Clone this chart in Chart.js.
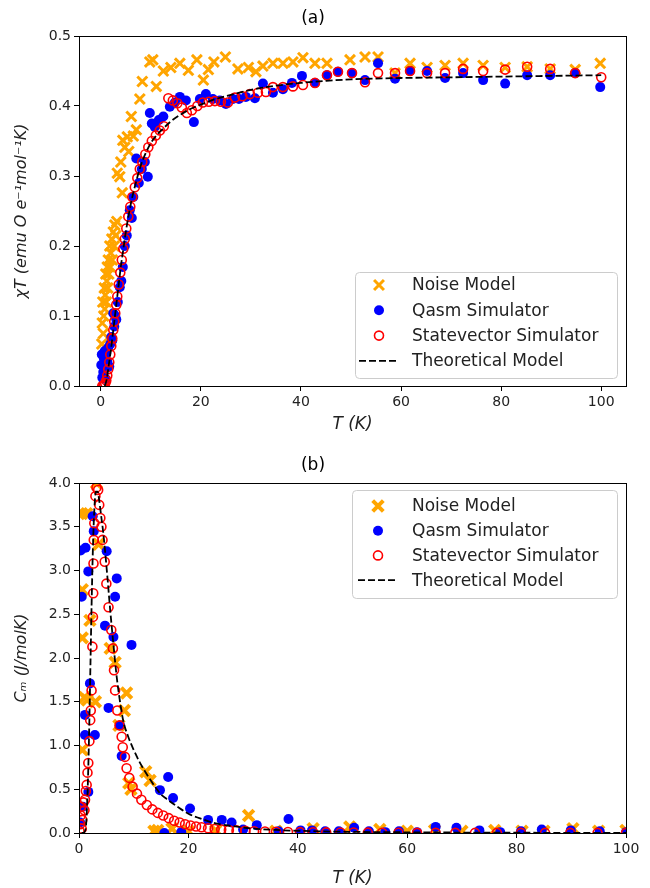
<!DOCTYPE html>
<html>
<head>
<meta charset="utf-8">
<script src="https://cdn.jsdelivr.net/npm/chart.js@4"></script>
<style>
  html, body { margin: 0; padding: 0; background: #fff; }
  canvas { display: block; }
</style>
</head>
<body>
<canvas id="chartA" width="650" height="444"></canvas>
<canvas id="chartB" width="650" height="444"></canvas>
<script>
// tick labels
const xTicks = [0, 20, 40, 60, 80, 100];
const chiTicks = [0, 0.1, 0.2, 0.3, 0.4, 0.5];
const cmTicks = [0, 0.5, 1, 1.5, 2, 2.5, 3, 3.5, 4];
const seriesNames = ['Noise Model', 'Qasm Simulator', 'Statevector Simulator', 'Theoretical Model'];

// (a) chi*T vs T  -> [T, chiT]
const noiseChi = [[0.2,0.06],[0.3,0.09],[0.4,0.12],[0.5,0.075],[0.6,0.1],[0.7,0.14],[0.8,0.11],[0.9,0.13],[1.0,0.16],[1.1,0.12],[1.2,0.15],[1.3,0.17],[1.4,0.14],[1.5,0.18],[1.6,0.16],[1.8,0.2],[1.9,0.17],[2.0,0.19],[2.2,0.21],[2.3,0.18],[2.5,0.22],[2.7,0.2],[2.8,0.23],[3.0,0.215],[3.2,0.235],[3.3,0.304],[3.8,0.299],[4.0,0.32],[4.3,0.276],[4.4,0.351],[4.8,0.341],[5.3,0.356],[5.6,0.335],[6.1,0.385],[6.5,0.357],[7.1,0.366],[7.8,0.41],[8.3,0.435],[9.8,0.463],[10.4,0.466],[11.1,0.428],[12.5,0.45],[14,0.455],[15.8,0.461],[17.5,0.451],[19.2,0.466],[20.5,0.437],[21.5,0.452],[22.6,0.463],[24.9,0.47],[27.4,0.453],[29.5,0.455],[31,0.449],[32.4,0.457],[34.4,0.461],[36.4,0.461],[38.4,0.463],[40.4,0.469],[42.8,0.461],[45.2,0.461],[49.8,0.466],[52.8,0.47],[55.4,0.47],[58.8,0.447],[61.8,0.461],[65.2,0.455],[68.8,0.458],[72.4,0.461],[76.4,0.458],[80.8,0.455],[85.2,0.456],[89.8,0.453],[94.8,0.452],[99.8,0.461]];
const qasmChi = [[0.1,0.03],[0.2,0.045],[0.3,0.012],[0.5,0.02],[0.6,0.04],[0.8,0.05],[1.0,0.01],[1.1,0.047],[1.3,0.035],[1.5,0.055],[1.7,0.028],[1.9,0.06],[2.1,0.07],[2.3,0.065],[2.5,0.104],[2.7,0.085],[2.9,0.1],[3.1,0.095],[3.4,0.12],[3.8,0.141],[4.1,0.15],[4.4,0.17],[4.8,0.2],[5.2,0.215],[5.8,0.251],[6.2,0.24],[6.5,0.27],[7.1,0.325],[7.6,0.29],[8.2,0.31],[8.8,0.32],[9.4,0.299],[9.8,0.39],[10.2,0.375],[10.8,0.37],[11.6,0.38],[12.5,0.385],[13.8,0.399],[14.8,0.405],[15.8,0.413],[17,0.408],[18.6,0.377],[19.8,0.41],[21,0.417],[22.4,0.41],[23.8,0.408],[25,0.403],[26.4,0.41],[27.6,0.41],[29,0.413],[30.8,0.411],[32.4,0.432],[34.4,0.419],[36.4,0.424],[38.2,0.433],[40.2,0.443],[42.8,0.433],[45.2,0.444],[47.4,0.449],[50.2,0.447],[52.8,0.437],[55.4,0.461],[58.8,0.439],[61.8,0.45],[65.2,0.45],[68.8,0.44],[72.4,0.447],[76.4,0.437],[80.8,0.432],[85.2,0.444],[89.8,0.444],[94.8,0.447],[99.8,0.427]];
const stateChi = [[0.3,0],[0.5,0],[0.7,0.002],[0.9,0.004],[1.1,0.008],[1.3,0.015],[1.5,0.024],[1.7,0.034],[1.9,0.045],[2.1,0.057],[2.3,0.068],[2.5,0.08],[2.7,0.092],[2.9,0.104],[3.1,0.116],[3.3,0.128],[3.6,0.145],[3.9,0.162],[4.2,0.18],[4.5,0.196],[4.8,0.21],[5.1,0.225],[5.5,0.242],[5.9,0.256],[6.3,0.27],[6.8,0.284],[7.3,0.297],[7.8,0.31],[8.3,0.32],[8.9,0.331],[9.5,0.341],[10.2,0.35],[11,0.358],[11.8,0.365],[12.6,0.371],[13.5,0.411],[14.4,0.408],[15.3,0.404],[16.2,0.398],[17.2,0.39],[18.2,0.394],[19.3,0.4],[20.4,0.405],[21.6,0.406],[22.8,0.407],[24,0.406],[25.4,0.405],[26.8,0.412],[28.3,0.414],[29.8,0.417],[31.4,0.419],[33,0.42],[34.4,0.427],[36.4,0.427],[38.4,0.428],[40.4,0.43],[42.8,0.433],[45.2,0.444],[47.4,0.449],[50.2,0.447],[52.8,0.434],[55.4,0.447],[58.8,0.447],[61.8,0.45],[65.2,0.447],[68.8,0.447],[72.4,0.453],[76.4,0.45],[80.8,0.452],[85.2,0.456],[89.8,0.453],[94.8,0.447],[100,0.441]];
const theoryChi = [[0.8,0],[1.2,0.01],[1.6,0.03],[2.0,0.05],[2.5,0.08],[3.0,0.11],[3.5,0.14],[4.0,0.17],[4.5,0.195],[5.0,0.22],[6.0,0.26],[7.0,0.29],[8.0,0.315],[9.0,0.333],[10,0.347],[11,0.357],[12.5,0.368],[14,0.378],[16,0.388],[18,0.396],[20,0.402],[23,0.41],[26,0.416],[30,0.423],[35,0.429],[40,0.433],[45,0.436],[50,0.438],[60,0.44],[70,0.441],[80,0.442],[90,0.443],[100,0.444]];

// (b) Cm vs T  -> [T, Cm]
const noiseCm = [[0.5,3.65],[0.6,2.78],[0.6,2.23],[0.6,0.95],[1.0,1.55],[1.4,3.65],[1.5,1.52],[2.0,2.43],[3.0,1.5],[3.2,4.0],[3.6,3.3],[5.7,2.11],[6.6,1.95],[7.3,1.23],[8.3,1.4],[8.7,1.6],[9.1,0.57],[9.5,0.5],[12.2,0.7],[13,0.6],[13.7,0.02],[14.4,0.03],[17,0.05],[20,0.02],[25,0.03],[31,0.2],[36,0.02],[42.8,0.05],[49.5,0.07],[55,0.04],[60,0.02],[65,0.03],[70,0.02],[76,0.03],[81,0.02],[85,0.02],[90.3,0.05],[95,0.02],[100,0.03]];
const qasmCm = [[0.2,0.12],[0.3,3.23],[0.5,2.7],[0.7,0.3],[1.1,1.35],[1.1,1.12],[1.2,3.26],[1.7,2.99],[1.7,0.47],[2.0,1.71],[2.5,3.62],[2.7,3.45],[2.9,1.12],[4.75,2.37],[5.06,3.22],[5.4,1.43],[6.3,2.24],[6.6,2.7],[6.9,2.91],[7.5,1.23],[7.8,0.88],[9.6,2.15],[14.8,0.49],[15.6,0.0],[16.3,0.64],[17.2,0.4],[18.7,0.01],[20.3,0.28],[23.6,0.15],[26.1,0.15],[27.9,0.12],[30,0.04],[32.5,0.09],[36.5,0.02],[38.3,0.16],[40.5,0.03],[42.6,0.03],[45,0.02],[47.5,0.02],[50.3,0.06],[53,0.02],[56,0.01],[58.5,0.02],[61.8,0.01],[65.2,0.07],[69,0.06],[73.2,0.03],[77,0.01],[80.8,0.02],[84.6,0.04],[89.9,0.03],[95.2,0.02],[100,0.01]];
const stateCm = [[0.1,0.02],[0.2,0.1],[0.3,0.2],[0.4,0.3],[0.5,0.05],[0.6,0.15],[0.8,0.35],[1.0,0.26],[1.1,0.38],[1.25,0.48],[1.4,0.55],[1.55,0.69],[1.7,0.8],[1.9,1.05],[2.05,1.29],[2.15,1.4],[2.3,1.63],[2.45,2.13],[2.55,2.47],[2.6,2.74],[2.65,3.08],[2.7,3.35],[2.8,3.54],[3.0,3.85],[3.2,3.95],[3.5,3.92],[3.7,3.75],[3.9,3.6],[4.1,3.5],[4.3,3.35],[4.7,3.1],[5.0,2.85],[5.4,2.58],[5.9,2.32],[6.2,2.11],[6.4,1.86],[6.6,1.63],[7.0,1.4],[7.4,1.23],[7.8,1.1],[8.0,0.98],[8.4,0.87],[8.7,0.74],[9.2,0.63],[9.8,0.53],[10.6,0.45],[11.4,0.38],[12.4,0.32],[13.4,0.27],[14.4,0.23],[15.4,0.2],[16.4,0.17],[17.4,0.14],[18.4,0.12],[19.4,0.1],[20.4,0.085],[21.4,0.075],[22.4,0.065],[23.6,0.055],[24.8,0.045],[26,0.04],[27.4,0.035],[28.8,0.03],[30.4,0.025],[32,0.02],[34,0.018],[36,0.015],[38.2,0.012],[40.4,0.01],[42.8,0.008],[45.2,0.007],[47.8,0.006],[50.2,0.005],[52.8,0.004],[55.4,0.003],[58.4,0.003],[61.8,0.002],[65.2,0.002],[68.8,0.002],[72.4,0.001],[76.4,0.001],[80.8,0.001],[85.2,0.001],[89.8,0.001],[94.8,0.001],[100,0.001]];
const theoryCm = [[0.5,0],[1.0,0.01],[1.3,0.1],[1.5,0.35],[1.7,0.75],[1.9,1.3],[2.1,1.95],[2.3,2.6],[2.5,3.15],[2.7,3.55],[2.9,3.8],[3.1,3.9],[3.4,3.9],[3.7,3.8],[4.0,3.65],[4.4,3.45],[4.8,3.2],[5.2,2.92],[5.7,2.55],[6.3,2.15],[6.9,1.78],[7.5,1.5],[8.1,1.28],[9,1.1],[10,0.95],[11,0.82],[12.5,0.66],[14,0.52],[15,0.44],[16,0.39],[18,0.3],[20,0.22],[22,0.17],[25,0.11],[28,0.08],[32,0.05],[36,0.035],[40,0.025],[50,0.013],[60,0.008],[70,0.005],[80,0.003],[90,0.002],[100,0.001]];

const FONT = 'DejaVu Sans';
const toXY = arr => arr.map(p => ({ x: p[0], y: p[1] }));

// black box round the plot area, like matplotlib spines
const framePlugin = {
  id: 'frame',
  afterDatasetsDraw(chart) {
    const { ctx, chartArea: a } = chart;
    ctx.save();
    ctx.strokeStyle = '#000';
    ctx.lineWidth = 1;
    ctx.strokeRect(Math.round(a.left) + 0.5, Math.round(a.top) + 0.5, Math.round(a.right - a.left), Math.round(a.bottom - a.top));
    ctx.restore();
  }
};

// legend inside the axes (lower right / upper right)
const legendBoxPlugin = {
  id: 'legendBox',
  afterDraw(chart, args, opts) {
    const ctx = chart.ctx;
    const b = opts.box;
    ctx.save();
    ctx.beginPath();
    ctx.roundRect(b.x + 0.5, b.y + 0.5, b.w, b.h, 4);
    ctx.fillStyle = 'rgba(255,255,255,0.8)';
    ctx.fill();
    ctx.strokeStyle = '#cccccc';
    ctx.lineWidth = 1;
    ctx.stroke();
    ctx.font = opts.fontSize + 'px "' + FONT + '"';
    ctx.textBaseline = 'middle';
    ctx.fillStyle = '#222';
    seriesNames.forEach((name, i) => {
      const ds = chart.data.datasets[i];
      const y = b.y + opts.first + i * opts.step;
      const mx = b.x + opts.markerX;
      if (i === 0) {
        const r = ds.pointRadius * Math.SQRT1_2;
        ctx.strokeStyle = ds.borderColor;
        ctx.lineWidth = ds.pointBorderWidth;
        ctx.beginPath();
        ctx.moveTo(mx - r, y - r); ctx.lineTo(mx + r, y + r);
        ctx.moveTo(mx - r, y + r); ctx.lineTo(mx + r, y - r);
        ctx.stroke();
      } else if (i === 1) {
        ctx.fillStyle = ds.backgroundColor;
        ctx.beginPath();
        ctx.arc(mx, y, ds.pointRadius, 0, Math.PI * 2);
        ctx.fill();
      } else if (i === 2) {
        ctx.strokeStyle = ds.borderColor;
        ctx.lineWidth = ds.pointBorderWidth;
        ctx.beginPath();
        ctx.arc(mx, y, ds.pointRadius, 0, Math.PI * 2);
        ctx.stroke();
      } else {
        ctx.strokeStyle = ds.borderColor;
        ctx.lineWidth = ds.borderWidth;
        ctx.setLineDash(ds.borderDash);
        ctx.beginPath();
        ctx.moveTo(mx - 20, y); ctx.lineTo(mx + 20, y);
        ctx.stroke();
        ctx.setLineDash([]);
      }
      ctx.fillStyle = '#222';
      ctx.fillText(name, b.x + opts.textX, y + 1);
    });
    ctx.restore();
  }
};

function makeChart(id, c) {
  return new Chart(document.getElementById(id), {
    type: 'scatter',
    data: {
      datasets: [
        { label: seriesNames[0], data: toXY(c.noise), pointStyle: 'crossRot', pointRadius: c.crossR,
          pointBorderWidth: c.crossW, borderWidth: c.crossW, borderColor: '#ffa500', backgroundColor: '#ffa500', order: 4 },
        { label: seriesNames[1], data: toXY(c.qasm), pointStyle: 'circle', pointRadius: 5,
          pointBorderWidth: 0, borderWidth: 0, borderColor: '#0000ff', backgroundColor: '#0000ff', order: 3 },
        { label: seriesNames[2], data: toXY(c.state), pointStyle: 'circle', pointRadius: 4.5,
          pointBorderWidth: 1.6, borderWidth: 1.6, borderColor: '#ff0000', backgroundColor: 'rgba(0,0,0,0)', order: 2 },
        { label: seriesNames[3], data: toXY(c.theory), showLine: true, pointRadius: 0, borderWidth: 1.8,
          borderDash: [7, 3], borderColor: '#000', backgroundColor: '#000', cubicInterpolationMode: 'monotone', order: 1 }
      ]
    },
    options: {
      responsive: false,
      animation: false,
      events: [],
      layout: { padding: { left: 0, right: 24, top: 0, bottom: 0 } },
      plugins: {
        legend: { display: false },
        tooltip: { enabled: false },
        title: {
          display: true, text: c.title, color: '#000',
          font: { family: FONT, size: 17, weight: 'normal', lineHeight: 1.2 },
          padding: { top: c.titleTop, bottom: 7.6 }
        },
        legendBox: c.legend
      },
      scales: {
        x: {
          type: 'linear', min: c.xMin, max: c.xMax,
          afterFit: s => { s.height = c.xAxisH; },
          afterBuildTicks: s => { s.ticks = xTicks.map(v => ({ value: v })); },
          ticks: { color: '#222', font: { family: FONT, size: 14 }, padding: 3, maxRotation: 0, callback: v => String(v) },
          grid: { drawOnChartArea: false, drawTicks: true, tickLength: 5, color: '#000' },
          border: { display: true, color: '#000', width: 1 },
          title: {
            display: true, text: 'T (K)', color: '#222',
            font: { family: FONT, size: 17, style: 'italic', lineHeight: c.xTitleLH },
            padding: { top: 0, bottom: c.xTitlePad }
          }
        },
        y: {
          type: 'linear', min: c.yTicks[0], max: c.yTicks[c.yTicks.length - 1],
          afterFit: s => { s.width = 79; },
          afterBuildTicks: s => { s.ticks = c.yTicks.map(v => ({ value: v })); },
          ticks: { color: '#222', font: { family: FONT, size: 14 }, padding: 3, callback: v => v.toFixed(1) },
          grid: { drawOnChartArea: false, drawTicks: true, tickLength: 5, color: '#000' },
          border: { display: true, color: '#000', width: 1 },
          title: {
            display: true, text: c.yTitle, color: '#222',
            font: { family: FONT, size: 16, style: 'italic', lineHeight: 1.2 },
            padding: { top: 12, bottom: 0 }
          }
        }
      }
    },
    plugins: [framePlugin, legendBoxPlugin]
  });
}

makeChart('chartA', {
  title: '(a)', titleTop: 8,
  noise: noiseChi, qasm: qasmChi, state: stateChi, theory: theoryChi,
  crossR: 7, crossW: 3,
  xMin: -4.35, xMax: 104.95, xAxisH: 58, xTitleLH: 1.2, xTitlePad: 9,
  yTicks: chiTicks, yTitle: 'χT (emu O e⁻¹mol⁻¹K)',
  legend: { box: { x: 355, y: 272, w: 262, h: 106 }, first: 13, step: 25.3, markerX: 24, textX: 57, fontSize: 17 }
});

makeChart('chartB', {
  title: '(b)', titleTop: 11,
  noise: noiseCm, qasm: qasmCm, state: stateCm, theory: theoryCm,
  crossR: 7.5, crossW: 4,
  xMin: 0, xMax: 100, xAxisH: 55, xTitleLH: 1.0, xTitlePad: 0.5,
  yTicks: cmTicks, yTitle: 'Cₘ (J/molK)',
  legend: { box: { x: 352, y: 46, w: 265, h: 108 }, first: 16, step: 24.7, markerX: 26, textX: 60, fontSize: 17 }
});
</script>
</body>
</html>
